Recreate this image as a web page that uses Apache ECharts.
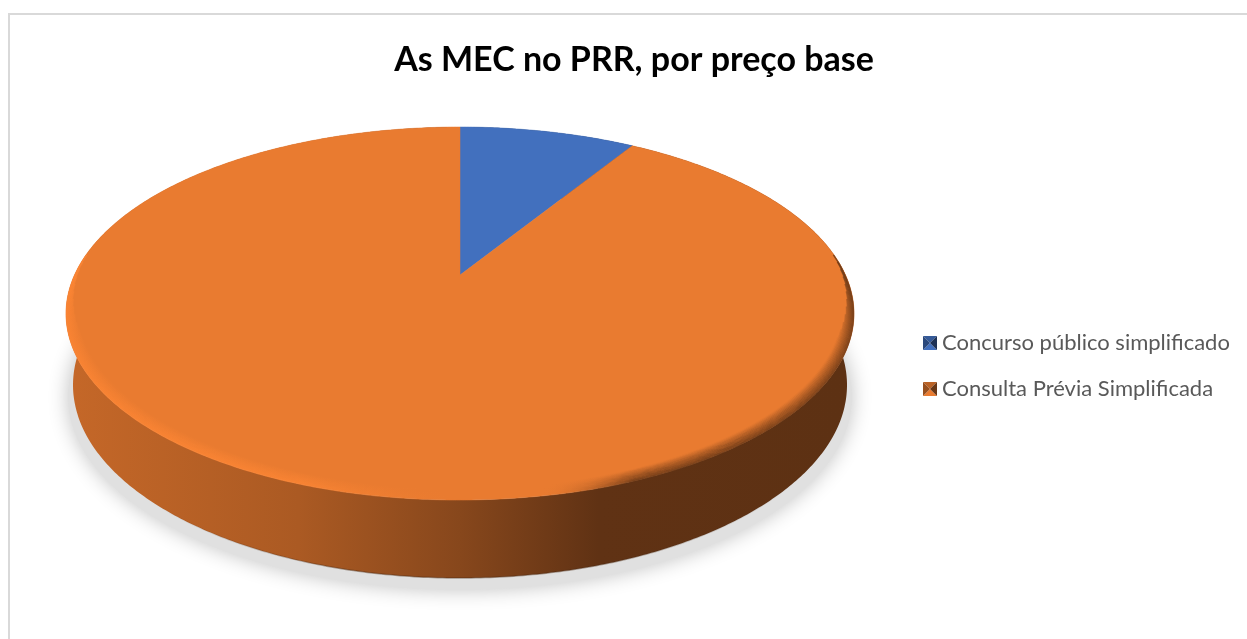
<!DOCTYPE html>
<html>
<head>
<meta charset="utf-8">
<style>
html, body { margin: 0; padding: 0; background: #fff; }
#chart { width: 1247px; height: 639px; }
</style>
</head>
<body>
<div id="chart"></div>
<script src="https://cdn.jsdelivr.net/npm/echarts@6/dist/echarts.min.js"></script>
<script>
var titleText = 'As MEC no PRR, por preço base';
var categories = ['Concurso público simplificado', 'Consulta Prévia Simplificada'];
var values = [8.8, 91.2];
var colors = ['#4270BE', '#E97B30'];

var total = values.reduce(function (a, b) { return a + b; }, 0);
var topFace = { cx: 460, cy: 313.5, rx: 394, ry: 186.5 };
var bottomFace = { cx: 460, cy: 385, rx: 387, ry: 193 };
var floorFace = { cx: 460, cy: 397, rx: 392, ry: 193 };
var persp = 0.206;	// pushes the pie centre back, as in the 3d view

// angle is clockwise from 12 o'clock
function project(face, a) {
	var u = Math.sin(a), v = Math.cos(a), k = 1 + persp * v;
	return [
		face.cx + face.rx * u * Math.sqrt(1 - persp * persp) / k,
		face.cy - face.ry * (v + persp) / k
	];
}
function arc(face, a0, a1) {
	var n = Math.max(2, Math.ceil((a1 - a0) / 0.01)), pts = [];
	for (var i = 0; i <= n; i++) pts.push(project(face, a0 + (a1 - a0) * i / n));
	return pts;
}
function inset(d) {	// ring touching the top of the face, d px in at the sides
	return { cx: topFace.cx, cy: topFace.cy - d / 2 + 0.5, rx: topFace.rx - d, ry: topFace.ry - d / 2 };
}
function hgrad(x0, x1, stops) {
	return new echarts.graphic.LinearGradient(x0, 0, x1, 0, stops.map(function (s) {
		return { offset: s[0], color: s[1] };
	}), true);
}
function shade(c, k, alpha) {
	var p = echarts.color.parse(c);
	return 'rgba(' + Math.round(p[0] * k) + ',' + Math.round(p[1] * k) + ',' + Math.round(p[2] * k) + ',' + (alpha === undefined ? 1 : alpha) + ')';
}
function legendIcon(c) {	// little bevelled square like the office legend key
	var svg = '<svg xmlns="http://www.w3.org/2000/svg" width="14" height="14">'
		+ '<polygon points="0,0 14,0 7,7" fill="' + shade(c, 0.8) + '"/>'
		+ '<polygon points="0,14 14,14 7,7" fill="' + c + '"/>'
		+ '<polygon points="0,0 0,14 7,7" fill="' + shade(c, 0.65) + '"/>'
		+ '<polygon points="14,0 14,14 7,7" fill="' + shade(c, 0.45) + '"/></svg>';
	return 'image://data:image/svg+xml;charset=utf-8,' + encodeURIComponent(svg);
}
// wall as a run of small quads, so the outline follows the sides of the disc
function wallShape(a0, a1) {
	var t = arc(topFace, a0, a1), b = arc(bottomFace, a0, a1), d = '';
	var minX = 1e9, minY = 1e9, maxX = -1e9, maxY = -1e9;
	for (var i = 0; i < t.length - 1; i++) {
		var q = [t[i], t[i + 1], b[i + 1], b[i]];
		d += 'M' + q.map(function (p) {
			minX = Math.min(minX, p[0]); maxX = Math.max(maxX, p[0]);
			minY = Math.min(minY, p[1]); maxY = Math.max(maxY, p[1]);
			return p[0].toFixed(2) + ' ' + p[1].toFixed(2);
		}).join('L') + 'Z';
	}
	return { pathData: d, layout: 'cover', x: minX, y: minY, width: maxX - minX, height: maxY - minY };
}

function renderSlice(params, api) {
	var i = params.seriesIndex, c = colors[i], before = 0;
	for (var j = 0; j < i; j++) before += values[j];
	var a0 = before / total * Math.PI * 2;
	var a1 = (before + api.value(0)) / total * Math.PI * 2;
	var kids = [];

	// soft floor shadow
	kids.push({
		type: 'polygon', z2: 1, silent: true,
		shape: { points: arc(floorFace, a0, a1).concat([[floorFace.cx, floorFace.cy]]) },
		style: { fill: '#e0e0e0', shadowBlur: 20, shadowColor: 'rgba(0,0,0,0.24)' }
	});

	// side wall
	kids.push({
		type: 'path', z2: 2, silent: true,
		shape: wallShape(a0, a1),
		style: { fill: hgrad(75, 845, [[0, shade(c, 0.84)], [0.29, shade(c, 0.735)], [0.5, shade(c, 0.58)], [0.68, shade(c, 0.41)], [1, shade(c, 0.4)]]) }
	});
	kids.push({
		type: 'polyline', z2: 2, silent: true,
		shape: { points: arc(bottomFace, a0, a1) },
		style: { fill: null, lineWidth: 1.5, stroke: hgrad(150, 800, [[0, shade(c, 0.3, 0)], [0.3, shade(c, 0.3, 0.4)], [0.7, shade(c, 0.3, 0.4)], [1, shade(c, 0.3, 0)]]) }
	});

	// top face
	kids.push({
		type: 'polygon', z2: 3, silent: true,
		shape: { points: [[topFace.cx, topFace.cy - topFace.ry * persp]].concat(arc(topFace, a0, a1)) },
		style: { fill: c, stroke: c, lineWidth: 0.5 }
	});

	// bevel: lit on the left, in shadow on the right, tapering out towards the back
	var rimW = 12, rad = Math.PI / 180;
	for (var d = 0.5; d < rimW; d += 1) {
		var f = 1 - d / rimW;
		var r0 = Math.max(a0, (82 + 2.5 * d) * rad), r1 = Math.min(a1, (278 - 2.5 * d) * rad);
		if (r1 <= r0) continue;
		kids.push({
			type: 'polyline', z2: 4, silent: true,
			shape: { points: arc(inset(d), r0, r1) },
			style: {
				fill: null, lineWidth: 1.4, opacity: f * 0.75,
				stroke: hgrad(66, 854, [[0, shade(c, 1.09)], [0.3, shade(c, 1.09, 0.9)], [0.52, shade(c, 1, 0)], [0.6, shade(c, 1, 0)], [0.72, shade(c, 0.4)], [1, shade(c, 0.4)]])
			}
		});
	}
	return { type: 'group', children: kids };
}

var chart = echarts.init(document.getElementById('chart'));
chart.setOption({
	animation: false,
	title: {
		text: titleText, left: 634, top: 43, padding: 0, textAlign: 'center',
		textStyle: { fontFamily: 'Lato', fontWeight: 'bold', fontSize: 34, color: '#000' }
	},
	legend: {
		orient: 'vertical', left: 923, top: 332, padding: 0, itemWidth: 14, itemHeight: 14, itemGap: 24, selectedMode: false,
		textStyle: { fontFamily: 'Lato', fontSize: 22, color: '#595959' },
		data: categories.map(function (name, i) { return { name: name, icon: legendIcon(colors[i]) }; })
	},
	graphic: [{
		type: 'rect', silent: true, z: -1,
		shape: { x: 9, y: 14, width: 1300, height: 700 },
		style: { fill: 'none', stroke: '#d9d9d9', lineWidth: 2 }
	}],
	series: categories.map(function (name, i) {
		return {
			name: name, type: 'custom', coordinateSystem: 'none', silent: true,
			itemStyle: { color: colors[i] },
			renderItem: renderSlice, data: [[values[i]]]
		};
	})
});
</script>
</body>
</html>
